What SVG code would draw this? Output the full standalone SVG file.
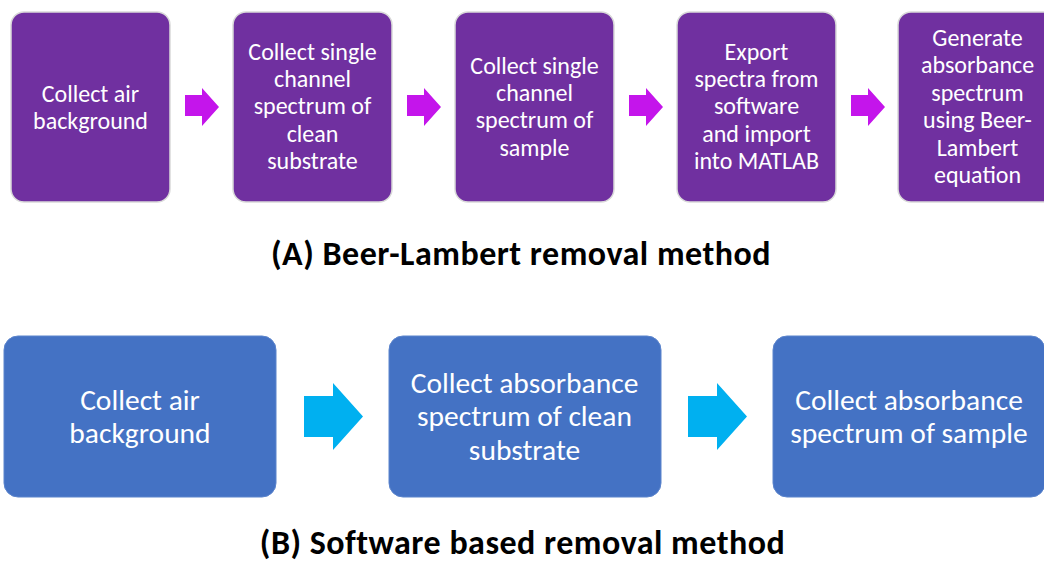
<svg xmlns="http://www.w3.org/2000/svg" width="1044" height="561" viewBox="0 0 1044 561">
<style>
.pbox{fill:#7030A0;stroke:#D9D9D9;stroke-width:1.5}
.bbox{fill:#4472C4;stroke:#5B84CC;stroke-width:1}
.t{font-family:Carlito,Lato,"Liberation Sans",sans-serif;fill:#FFFFFF;text-anchor:middle}
.ts{font-size:24px}
.tl{font-size:29.5px}
.title{font-family:Carlito,Lato,"Liberation Sans",sans-serif;font-weight:bold;font-size:34px;letter-spacing:0.5px;fill:#000000;text-anchor:middle}
.pa{fill:#C415EB}
.ba{fill:#00B0F0}
</style>
<rect width="1044" height="561" fill="#FFFFFF"/>
<g id="connectors">
<polygon class="pa" points="185,95 202,95 202,88 219,107 202,126 202,116 185,116"/>
<polygon class="pa" points="407,95 424,95 424,88 441,107 424,126 424,116 407,116"/>
<polygon class="pa" points="629,95 646,95 646,88 663,107 646,126 646,116 629,116"/>
<polygon class="pa" points="851,95 868,95 868,88 885,107 868,126 868,116 851,116"/>
<polygon class="ba" points="304,396 333,396 333,383 363,416.5 333,450 333,437 304,437"/>
<polygon class="ba" points="688,396 717,396 717,383 747,416.5 717,450 717,437 688,437"/>
</g>
<g id="a1">
<rect class="pbox" x="11" y="12" width="159" height="190" rx="13"/>
<text class="t ts" x="90.5" y="102">Collect air</text>
<text class="t ts" x="90.5" y="129">background</text>
</g>
<g id="a2">
<rect class="pbox" x="233" y="12" width="159" height="190" rx="13"/>
<text class="t ts" x="312.5" y="60">Collect single</text>
<text class="t ts" x="312.5" y="87">channel</text>
<text class="t ts" x="312.5" y="114">spectrum of</text>
<text class="t ts" x="312.5" y="142">clean</text>
<text class="t ts" x="312.5" y="169">substrate</text>
</g>
<g id="a3">
<rect class="pbox" x="455" y="12" width="159" height="190" rx="13"/>
<text class="t ts" x="534.5" y="74">Collect single</text>
<text class="t ts" x="534.5" y="101">channel</text>
<text class="t ts" x="534.5" y="128">spectrum of</text>
<text class="t ts" x="534.5" y="156">sample</text>
</g>
<g id="a4">
<rect class="pbox" x="677" y="12" width="159" height="190" rx="13"/>
<text class="t ts" x="756.5" y="60">Export</text>
<text class="t ts" x="756.5" y="87">spectra from</text>
<text class="t ts" x="756.5" y="114">software</text>
<text class="t ts" x="756.5" y="142">and import</text>
<text class="t ts" x="756.5" y="169">into MATLAB</text>
</g>
<g id="a5">
<rect class="pbox" x="898" y="12" width="159" height="190" rx="13"/>
<text class="t ts" x="977.5" y="46">Generate</text>
<text class="t ts" x="977.5" y="73">absorbance</text>
<text class="t ts" x="977.5" y="101">spectrum</text>
<text class="t ts" x="977.5" y="128">using Beer-</text>
<text class="t ts" x="977.5" y="156">Lambert</text>
<text class="t ts" x="977.5" y="183">equation</text>
</g>
<g id="titleA">
<text class="title" x="521" y="265">(A) Beer-Lambert removal method</text>
</g>
<g id="b1">
<rect class="bbox" x="4" y="336" width="272" height="161" rx="14"/>
<text class="t tl" x="140" y="410">Collect air</text>
<text class="t tl" x="140" y="443">background</text>
</g>
<g id="b2">
<rect class="bbox" x="389" y="336" width="272" height="161" rx="14"/>
<text class="t tl" x="524.5" y="393">Collect absorbance</text>
<text class="t tl" x="524.5" y="426">spectrum of clean</text>
<text class="t tl" x="524.5" y="460">substrate</text>
</g>
<g id="b3">
<rect class="bbox" x="773" y="336" width="272" height="161" rx="14"/>
<text class="t tl" x="909" y="410">Collect absorbance</text>
<text class="t tl" x="909" y="443">spectrum of sample</text>
</g>
<g id="titleB">
<text class="title" x="522.5" y="554">(B) Software based removal method</text>
</g>
</svg>
